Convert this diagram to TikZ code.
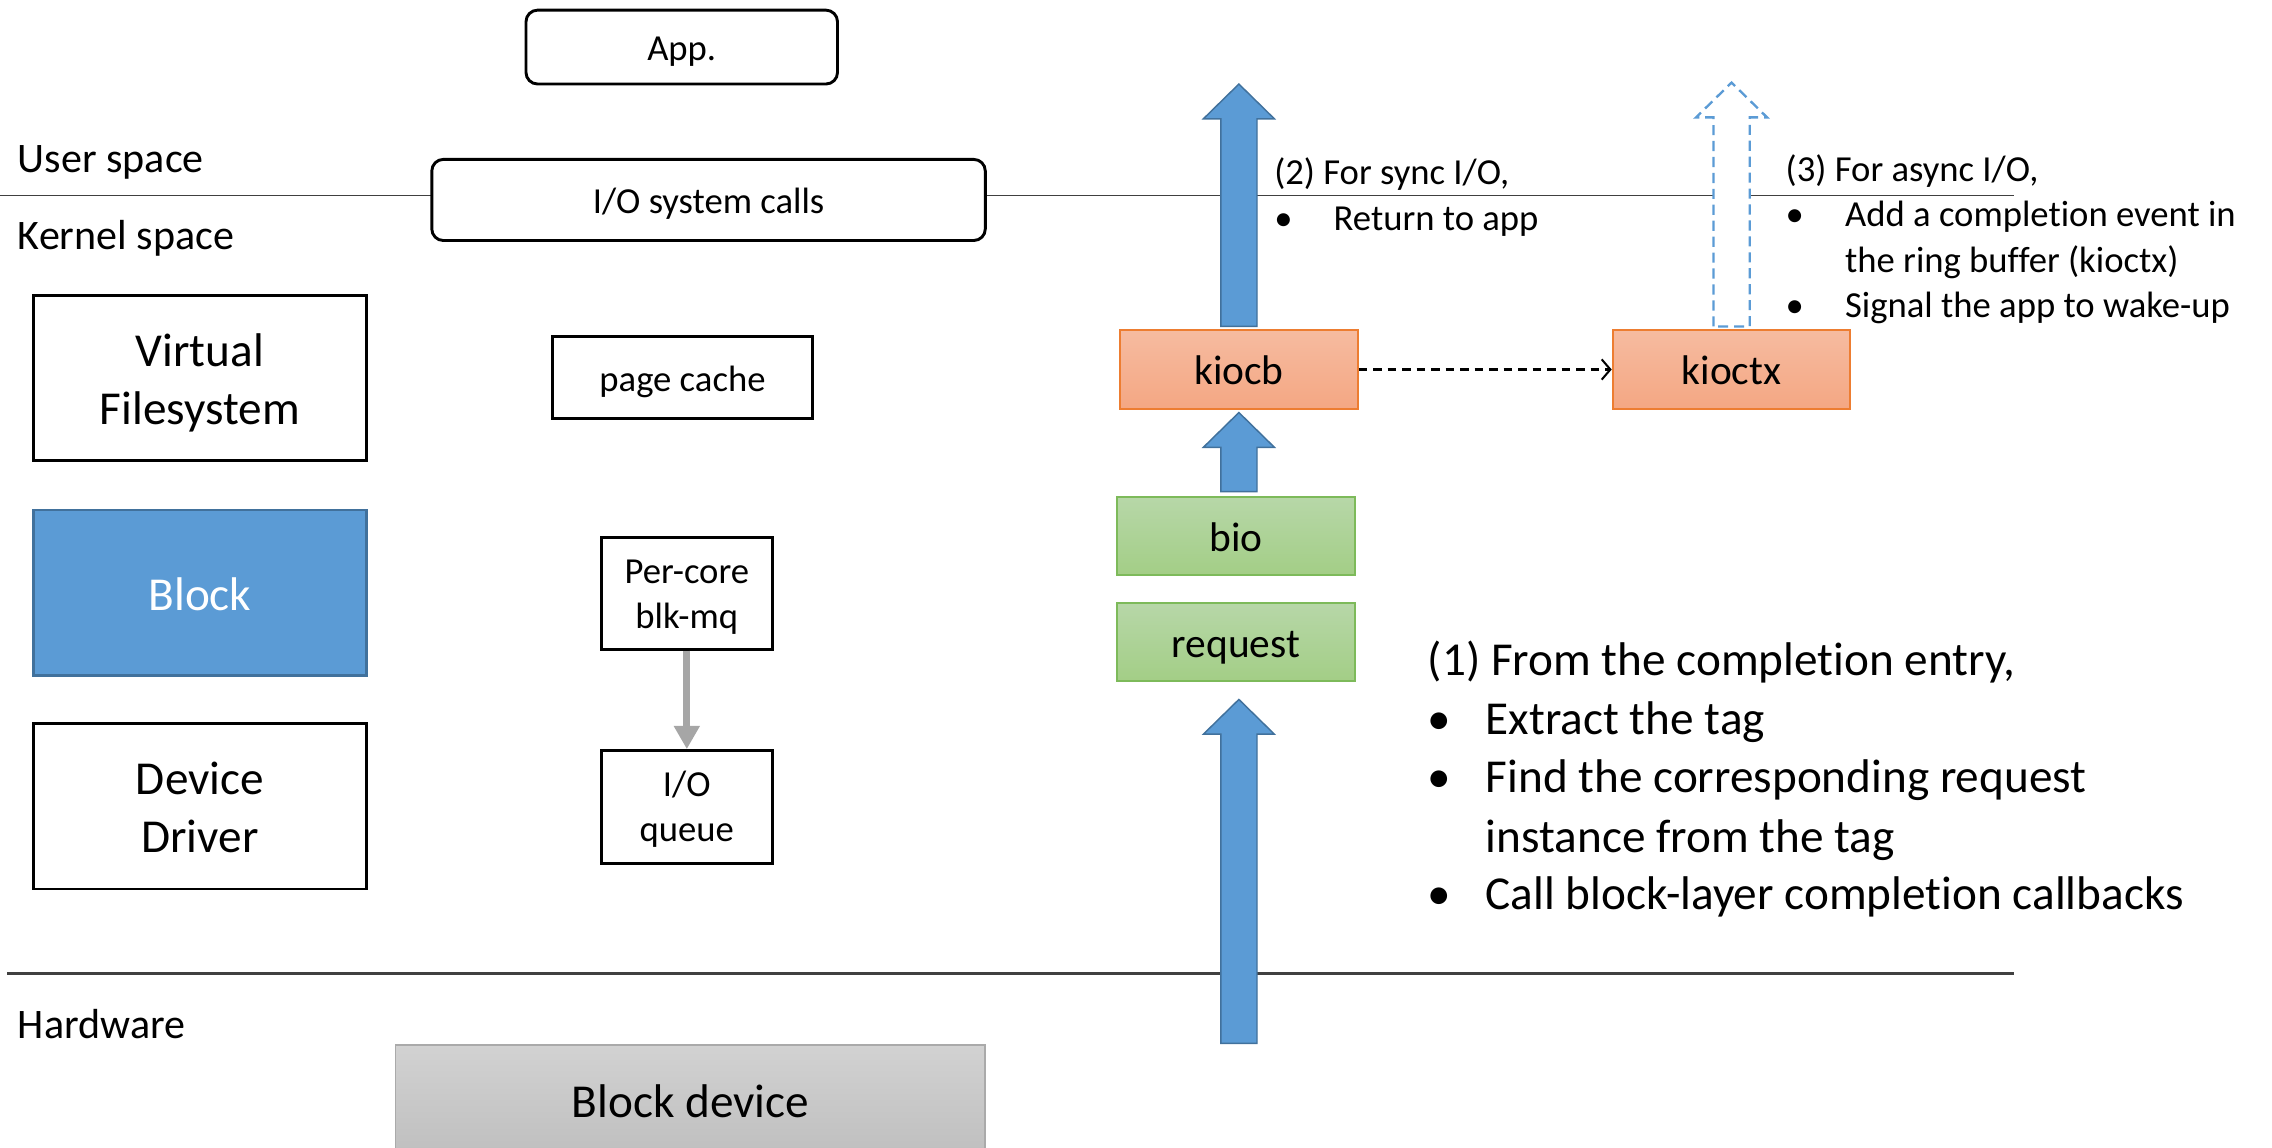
\documentclass[tikz,border=0pt]{standalone}
\usepackage{fontspec}
\setmainfont{Carlito}[Ligatures=NoCommon]
\usetikzlibrary{arrows.meta,calc}

\definecolor{sblue}{HTML}{5B9BD5}
\definecolor{sblueedge}{HTML}{41719C}
\definecolor{orangetop}{HTML}{F6BBA0}
\definecolor{orangebot}{HTML}{F4A783}
\definecolor{orangeedge}{HTML}{ED7D31}
\definecolor{greentop}{HTML}{B7D7A8}
\definecolor{greenbot}{HTML}{A3CE86}
\definecolor{greenedge}{HTML}{7DBA5A}
\definecolor{devtop}{HTML}{D2D2D2}
\definecolor{devbot}{HTML}{BFBFBF}
\definecolor{devedge}{HTML}{AAAAAA}
\definecolor{sepline}{HTML}{404040}
\definecolor{qarrow}{HTML}{A6A6A6}

\newcommand\fsmall{\fontsize{12.65pt}{15.5pt}\selectfont}
\newcommand\fmid{\fontsize{14.3pt}{17pt}\selectfont}
\newcommand\flabel{\fontsize{14.5pt}{17pt}\selectfont}
\newcommand\fbig{\fontsize{16.3pt}{20pt}\selectfont}

% invisible struts fixing the top of the first line and the bottom of the last one
\newcommand\topbig{\rule{0pt}{15.5pt}}
\newcommand\botbig{\rule[-3.5pt]{0pt}{0pt}}
\newcommand\topsmall{\rule{0pt}{11.5pt}}
\newcommand\botsmall{\rule[-3pt]{0pt}{0pt}}

% upward block arrow: #1 style, #2 foot of the shaft, #3 tip
\newcommand\blockarrow[3]{%
  \draw[#1] let \p1=(#2), \p2=(#3) in
    (\x1-6.25pt,\y1) -- (\x1-6.25pt,\y2-12pt) -- (\x1-12.25pt,\y2-12pt) -- (\x1,\y2)
    -- (\x1+12.25pt,\y2-12pt) -- (\x1+6.25pt,\y2-12pt) -- (\x1+6.25pt,\y1) -- cycle;}

\begin{document}
\begin{tikzpicture}[x=0.5pt,y=-0.5pt,
  every node/.style={inner sep=0pt},
  onesmall/.style={text height=12pt, text depth=2.65pt},
  onemid/.style={text height=13.6pt, text depth=3pt},
  onebig/.style={text height=15.5pt, text depth=3.4pt},
  plainbox/.style={draw=black, line width=1pt, fill=white, align=center},
  roundbox/.style={plainbox, rounded corners=4pt, onesmall},
  layerbox/.style={plainbox, minimum width=115pt, minimum height=57pt, font=\fbig},
  kbox/.style={draw=orangeedge, line width=0.7pt, top color=orangetop, bottom color=orangebot,
               minimum width=82pt, minimum height=27pt, font=\fmid, onemid},
  gbox/.style={draw=greenedge, line width=0.7pt, top color=greentop, bottom color=greenbot,
               minimum width=82pt, minimum height=27pt, font=\fmid, onemid},
  txt/.style={anchor=base west},
  flow/.style={fill=sblue, draw=sblueedge, line width=0.5pt},
  asyncflow/.style={fill=white, draw=sblue, line width=0.8pt, dash pattern=on 3.5pt off 2pt},
  sepln/.style={draw=sepline}
]
\useasboundingbox (0,0) rectangle (1568,792);
\clip (0,0) rectangle (1568,792);

% user / kernel / hardware boundaries
\draw[sepln, line width=0.6pt] (0,135) -- (1390,135);
\draw[sepln, line width=0.9pt] (5,672) -- (1390,672);

\node[txt, font=\flabel] (lbluser) at (12,119) {User space};
\node[txt, font=\flabel] (lblkern) at (12,172) {Kernel space};
\node[txt, font=\flabel] (lblhw) at (12,717) {Hardware};

% software stack
\node[roundbox, minimum width=107.5pt, minimum height=25.5pt, font=\fsmall] (app) at (470.5,32.5) {App.};
\node[roundbox, minimum width=191pt, minimum height=28pt, font=\fsmall] (sys) at (489,138) {I/O system calls};

\node[layerbox] (vfs) at (138,261) {\topbig Virtual\\Filesystem\botbig};
\node[layerbox, fill=sblue, draw=sblueedge, text=white, onebig] (blk) at (138,409) {Block};
\node[layerbox] (dd) at (138,556.5) {\topbig Device\\Driver\botbig};

\node[plainbox, onesmall, minimum width=90pt, minimum height=28.5pt, font=\fsmall] (pcache) at (471,260.5) {page cache};
\node[plainbox, minimum width=59pt, minimum height=38.5pt, font=\fsmall] (percore) at (474,409.5) {\topsmall Per-core\\blk-mq\botsmall};
\node[plainbox, minimum width=59pt, minimum height=39pt, font=\fsmall] (ioq) at (474,557) {\topsmall I/O\\queue\botsmall};
\draw[qarrow, line width=2.4pt, -{Triangle[width=8.5pt,length=8pt]}] (percore.south) -- (ioq.north);

\node[draw=devedge, line width=0.6pt, top color=devtop, bottom color=devbot, onebig,
      minimum width=203.5pt, minimum height=38pt, font=\fbig] (bdev) at (476.5,759) {Block device};

% completion path
\node[kbox] (kiocb) at (855,255) {kiocb};
\node[kbox] (kioctx) at (1195,255) {kioctx};
\node[gbox] (bio) at (853,370) {bio};
\node[gbox] (req) at (853,443) {request};

\coordinate (hwsrc) at (855,720);
\coordinate (reqtip) at ($(req.south)+(2,12)$);
\coordinate (biofoot) at ($(bio.north)+(2,-3)$);
\coordinate (kiocbtip) at ($(kiocb.south)+(0,2)$);
\coordinate (kiocbfoot) at ($(kiocb.north)+(0,-2)$);
\coordinate (synctip) at (855,58);
\coordinate (kioctxfoot) at ($(kioctx.north)+(0,-2)$);
\coordinate (asynctip) at (1195,57);

\blockarrow{flow}{hwsrc}{reqtip}
\blockarrow{flow}{biofoot}{kiocbtip}
\blockarrow{flow}{kiocbfoot}{synctip}
\blockarrow{asyncflow}{kioctxfoot}{asynctip}

\draw[black, line width=0.7pt, dash pattern=on 3pt off 2pt, -{Straight Barb[length=3pt,width=7pt]}]
  (kiocb.east) -- (kioctx.west);

% (2) sync completion
\node[txt, font=\fsmall] (s2h) at (879,127) {(2) For sync I/O,};
\node[txt, font=\fsmall] (s2b) at (879,159) {•};
\node[txt, font=\fsmall] (s2t) at (920,159) {Return to app};

% (3) async completion
\node[txt, font=\fsmall] (s3h) at (1232,125) {(3) For async I/O,};
\node[txt, font=\fsmall] (s3b1) at (1232,156) {•};
\node[txt, font=\fsmall] (s3t1) at (1273,156) {Add a completion event in};
\node[txt, font=\fsmall] (s3t2) at (1273,188) {the ring buffer (kioctx)};
\node[txt, font=\fsmall] (s3b2) at (1232,219) {•};
\node[txt, font=\fsmall] (s3t3) at (1273,219) {Signal the app to wake-up};

% (1) interrupt-side completion
\node[txt, font=\fbig] (s1h) at (985,466) {(1) From the completion entry,};
\node[txt, font=\fbig] (s1b1) at (985,507) {•};
\node[txt, font=\fbig] (s1t1) at (1025,507) {Extract the tag};
\node[txt, font=\fbig] (s1b2) at (985,547) {•};
\node[txt, font=\fbig] (s1t2) at (1025,547) {Find the corresponding request};
\node[txt, font=\fbig] (s1t3) at (1025,588) {instance from the tag};
\node[txt, font=\fbig] (s1b3) at (985,628) {•};
\node[txt, font=\fbig] (s1t4) at (1025,628) {Call block-layer completion callbacks};
\end{tikzpicture}
\end{document}
